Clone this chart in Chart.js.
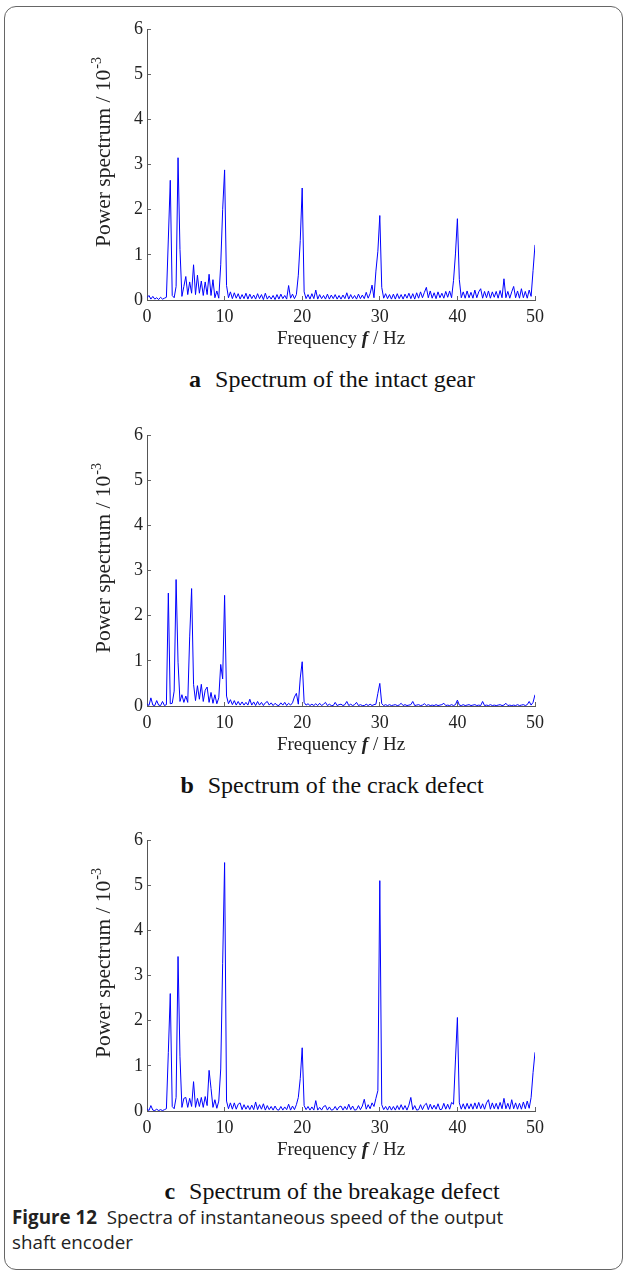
<!DOCTYPE html>
<html>
<head>
    <title>Figure 12</title>
    <script src="https://cdn.jsdelivr.net/npm/chart.js"></script>
    <style>
        body { margin: 0; background: #fff; }
        #page { position: relative; width: 624px; height: 1271px; overflow: hidden; }
        #frame {
            position: absolute; left: 4px; top: 6px; width: 617px; height: 1262px;
            border: 1px solid #666; border-radius: 12px;
        }
        canvas { position: absolute; left: 0; }
        .sub {
            position: absolute; left: 132px; width: 400px; text-align: center;
            font-family: "Liberation Serif", serif; font-size: 24px; line-height: 28px; color: #111;
        }
        .sub b { margin-right: 8px; }
        #caption {
            position: absolute; left: 12px; top: 1205px;
            font-family: "Open Sans", sans-serif; font-size: 18.8px; line-height: 25px; color: #222;
        }
    </style>
</head>
<body>
<div id="page">
    <div id="frame"></div>
    <canvas id="chartA" width="560" height="351" style="top: 9px"></canvas>
    <canvas id="chartB" width="560" height="351" style="top: 415px"></canvas>
    <canvas id="chartC" width="560" height="351" style="top: 820px"></canvas>
    <div class="sub" style="top: 365px"><b>a</b> Spectrum of the intact gear</div>
    <div class="sub" style="top: 771px"><b>b</b> Spectrum of the crack defect</div>
    <div class="sub" style="top: 1177px"><b>c</b> Spectrum of the breakage defect</div>
    <div id="caption"><b>Figure 12</b>&nbsp; Spectra of instantaneous speed of the output<br>shaft encoder</div>
</div>
<script>
    // frequency axis, Hz (one row per Hz)
    var freq = [
        0, 0.25, 0.5, 0.75,   1, 1.25, 1.5, 1.75,   2, 2.25, 2.5, 2.75,   3, 3.25, 3.5, 3.75,
        4, 4.25, 4.5, 4.75,   5, 5.25, 5.5, 5.75,   6, 6.25, 6.5, 6.75,   7, 7.25, 7.5, 7.75,
        8, 8.25, 8.5, 8.75,   9, 9.25, 9.5, 9.75,   10, 10.25, 10.5, 10.75,   11, 11.25, 11.5, 11.75,
        12, 12.25, 12.5, 12.75,   13, 13.25, 13.5, 13.75,   14, 14.25, 14.5, 14.75,   15, 15.25, 15.5, 15.75,
        16, 16.25, 16.5, 16.75,   17, 17.25, 17.5, 17.75,   18, 18.25, 18.5, 18.75,   19, 19.25, 19.5, 19.75,
        20, 20.25, 20.5, 20.75,   21, 21.25, 21.5, 21.75,   22, 22.25, 22.5, 22.75,   23, 23.25, 23.5, 23.75,
        24, 24.25, 24.5, 24.75,   25, 25.25, 25.5, 25.75,   26, 26.25, 26.5, 26.75,   27, 27.25, 27.5, 27.75,
        28, 28.25, 28.5, 28.75,   29, 29.25, 29.5, 29.75,   30, 30.25, 30.5, 30.75,   31, 31.25, 31.5, 31.75,
        32, 32.25, 32.5, 32.75,   33, 33.25, 33.5, 33.75,   34, 34.25, 34.5, 34.75,   35, 35.25, 35.5, 35.75,
        36, 36.25, 36.5, 36.75,   37, 37.25, 37.5, 37.75,   38, 38.25, 38.5, 38.75,   39, 39.25, 39.5, 39.75,
        40, 40.25, 40.5, 40.75,   41, 41.25, 41.5, 41.75,   42, 42.25, 42.5, 42.75,   43, 43.25, 43.5, 43.75,
        44, 44.25, 44.5, 44.75,   45, 45.25, 45.5, 45.75,   46, 46.25, 46.5, 46.75,   47, 47.25, 47.5, 47.75,
        48, 48.25, 48.5, 48.75,   49, 49.25, 49.5, 49.75,   50
    ];

    // power spectrum x 10^-3, a: intact gear
    var powerIntact = [
        0.05, 0.10, 0.02, 0.08,   0.02, 0.05, 0.01, 0.06,   0.02, 0.04, 0.06, 1.35,   2.65, 0.10, 0.05, 0.30,
        3.15, 1.12, 0.08, 0.30,   0.52, 0.12, 0.40, 0.15,   0.78, 0.12, 0.55, 0.15,   0.42, 0.10, 0.40, 0.12,
        0.57, 0.10, 0.45, 0.05,   0.20, 0.04, 0.78, 2.00,   2.88, 0.32, 0.05, 0.18,   0.03, 0.16, 0.04, 0.14,
        0.02, 0.12, 0.03, 0.15,   0.02, 0.13, 0.03, 0.11,   0.02, 0.14, 0.03, 0.12,   0.01, 0.15, 0.02, 0.09,
        0.02, 0.10, 0.01, 0.12,   0.02, 0.13, 0.03, 0.10,   0.02, 0.32, 0.04, 0.13,   0.03, 0.12, 0.55, 1.32,
        2.48, 0.18, 0.03, 0.12,   0.02, 0.14, 0.03, 0.22,   0.02, 0.12, 0.03, 0.10,   0.02, 0.13, 0.02, 0.11,
        0.03, 0.12, 0.02, 0.10,   0.02, 0.11, 0.03, 0.16,   0.02, 0.12, 0.03, 0.10,   0.02, 0.13, 0.03, 0.11,
        0.03, 0.17, 0.04, 0.14,   0.33, 0.05, 0.64, 1.08,   1.87, 0.28, 0.04, 0.14,   0.03, 0.12, 0.02, 0.13,
        0.02, 0.14, 0.03, 0.12,   0.02, 0.13, 0.04, 0.15,   0.03, 0.14, 0.02, 0.16,   0.04, 0.18, 0.05, 0.17,
        0.28, 0.05, 0.20, 0.04,   0.16, 0.03, 0.18, 0.05,   0.15, 0.04, 0.19, 0.06,   0.20, 0.05, 0.43, 1.02,
        1.80, 0.45, 0.05, 0.18,   0.04, 0.20, 0.05, 0.17,   0.04, 0.22, 0.05, 0.18,   0.25, 0.04, 0.19, 0.05,
        0.20, 0.04, 0.18, 0.06,   0.19, 0.04, 0.21, 0.05,   0.47, 0.05, 0.19, 0.04,   0.18, 0.30, 0.05, 0.20,
        0.04, 0.25, 0.05, 0.19,   0.04, 0.22, 0.08, 0.65,   1.22
    ];

    // b: crack defect
    var powerCrack = [
        0.05, 0.01, 0.18, 0.02,   0.01, 0.12, 0.02, 0.01,   0.10, 0.01, 0.03, 2.50,   0.05, 0.06, 0.33, 2.80,
        0.97, 0.10, 0.25, 0.08,   0.22, 0.08, 1.53, 2.60,   0.48, 0.12, 0.45, 0.15,   0.48, 0.10, 0.35, 0.42,
        0.08, 0.30, 0.06, 0.25,   0.05, 0.18, 0.92, 0.60,   2.45, 0.22, 0.05, 0.14,   0.03, 0.12, 0.02, 0.10,
        0.02, 0.09, 0.02, 0.08,   0.02, 0.15, 0.02, 0.09,   0.01, 0.10, 0.02, 0.08,   0.01, 0.07, 0.10, 0.02,
        0.07, 0.01, 0.06, 0.02,   0.01, 0.07, 0.02, 0.08,   0.01, 0.06, 0.02, 0.07,   0.20, 0.28, 0.04, 0.62,
        0.98, 0.08, 0.02, 0.05,   0.01, 0.04, 0.01, 0.05,   0.01, 0.06, 0.01, 0.04,   0.08, 0.01, 0.04, 0.01,
        0.01, 0.08, 0.01, 0.03,   0.04, 0.01, 0.03, 0.10,   0.01, 0.04, 0.01, 0.03,   0.08, 0.01, 0.03, 0.01,
        0.01, 0.04, 0.01, 0.04,   0.01, 0.03, 0.04, 0.28,   0.50, 0.05, 0.01, 0.03,   0.01, 0.03, 0.01, 0.02,
        0.03, 0.01, 0.02, 0.06,   0.01, 0.03, 0.01, 0.02,   0.03, 0.10, 0.01, 0.02,   0.03, 0.01, 0.02, 0.05,
        0.01, 0.03, 0.01, 0.02,   0.01, 0.03, 0.01, 0.02,   0.03, 0.06, 0.01, 0.02,   0.01, 0.03, 0.01, 0.03,
        0.13, 0.02, 0.01, 0.03,   0.01, 0.02, 0.03, 0.01,   0.02, 0.03, 0.01, 0.02,   0.01, 0.10, 0.01, 0.02,
        0.01, 0.03, 0.01, 0.02,   0.01, 0.02, 0.03, 0.01,   0.02, 0.06, 0.01, 0.02,   0.01, 0.02, 0.01, 0.03,
        0.01, 0.02, 0.03, 0.01,   0.03, 0.10, 0.02, 0.08,   0.25
    ];

    // c: breakage defect
    var powerBreak = [
        0.05, 0.01, 0.12, 0.02,   0.01, 0.04, 0.01, 0.03,   0.01, 0.03, 0.05, 1.30,   2.60, 0.10, 0.05, 0.30,
        3.42, 1.20, 0.08, 0.28,   0.30, 0.08, 0.28, 0.10,   0.65, 0.08, 0.28, 0.10,   0.30, 0.08, 0.32, 0.12,
        0.90, 0.50, 0.08, 0.25,   0.06, 0.22, 0.93, 3.27,   5.50, 0.22, 0.05, 0.18,   0.04, 0.18, 0.04, 0.15,
        0.18, 0.03, 0.14, 0.04,   0.12, 0.03, 0.13, 0.03,   0.20, 0.03, 0.14, 0.04,   0.16, 0.02, 0.12, 0.03,
        0.10, 0.02, 0.11, 0.03,   0.02, 0.10, 0.02, 0.09,   0.03, 0.15, 0.02, 0.11,   0.03, 0.14, 0.30, 0.72,
        1.40, 0.12, 0.03, 0.10,   0.02, 0.09, 0.02, 0.23,   0.02, 0.08, 0.02, 0.10,   0.12, 0.02, 0.09, 0.02,
        0.03, 0.10, 0.02, 0.09,   0.11, 0.02, 0.10, 0.03,   0.15, 0.03, 0.11, 0.02,   0.03, 0.12, 0.03, 0.11,
        0.26, 0.04, 0.14, 0.05,   0.18, 0.10, 0.28, 0.45,   5.10, 0.14, 0.03, 0.10,   0.02, 0.11, 0.02, 0.10,
        0.02, 0.12, 0.03, 0.14,   0.03, 0.12, 0.02, 0.13,   0.30, 0.03, 0.12, 0.02,   0.03, 0.14, 0.03, 0.13,
        0.17, 0.03, 0.15, 0.04,   0.13, 0.04, 0.16, 0.03,   0.04, 0.17, 0.04, 0.15,   0.04, 0.19, 0.15, 1.13,
        2.07, 0.18, 0.04, 0.16,   0.04, 0.17, 0.05, 0.16,   0.04, 0.18, 0.05, 0.19,   0.05, 0.16, 0.04, 0.18,
        0.25, 0.04, 0.18, 0.05,   0.17, 0.04, 0.19, 0.05,   0.28, 0.05, 0.17, 0.04,   0.25, 0.05, 0.18, 0.04,
        0.17, 0.04, 0.20, 0.05,   0.22, 0.06, 0.30, 0.85,   1.30
    ];

    var xTitle = ['Frequency ', 'f', ' / Hz'];
    var yTitle = ['Power spectrum / 10', '-3'];

    var serif = '"Liberation Serif", "Times New Roman", serif';

    // draws the axis titles (mixed italic / superscript, so done by hand)
    var axisTitles = {
        id: 'axisTitles',
        afterDraw: function(chart) {
            var ctx = chart.ctx, a = chart.chartArea;
            ctx.save();
            ctx.fillStyle = '#222';
            ctx.textBaseline = 'middle';

            var fonts = ['19px ' + serif, 'italic bold 19px ' + serif, '19px ' + serif];
            var w = 0;
            for (var i = 0; i < 3; i++) { ctx.font = fonts[i]; w += ctx.measureText(xTitle[i]).width; }
            var x = (a.left + a.right) / 2 - w / 2;
            for (var i = 0; i < 3; i++) {
                ctx.font = fonts[i];
                ctx.fillText(xTitle[i], x, a.bottom + 39);
                x += ctx.measureText(xTitle[i]).width;
            }

            ctx.translate(104, (a.top + a.bottom) / 2 - 12);
            ctx.rotate(-Math.PI / 2);
            ctx.font = '21.5px ' + serif;
            var w1 = ctx.measureText(yTitle[0]).width;
            ctx.font = '14px ' + serif;
            var w2 = ctx.measureText(yTitle[1]).width;
            var sx = -(w1 + w2) / 2;
            ctx.font = '21.5px ' + serif;
            ctx.fillText(yTitle[0], sx, 0);
            ctx.font = '14px ' + serif;
            ctx.fillText(yTitle[1], sx + w1 + 1, -7);
            ctx.restore();
        }
    };

    function makeChart(id, power) {
        var ctx = document.getElementById(id).getContext('2d');
        return new Chart(ctx, {
            type: 'line',
            data: {
                datasets: [{
                    data: freq.map(function(f, i) { return {x: f, y: power[i]}; }),
                    borderColor: '#0000ff',
                    borderWidth: 1,
                    pointRadius: 0,
                    tension: 0
                }]
            },
            options: {
                responsive: false,
                animation: false,
                layout: { padding: { top: 20, right: 25, left: 0, bottom: 0 } },
                plugins: { legend: { display: false }, tooltip: { enabled: false } },
                scales: {
                    x: {
                        type: 'linear',
                        min: 0,
                        max: 50,
                        ticks: { stepSize: 10, color: '#222', padding: 10, font: { family: serif, size: 18 } },
                        grid: { drawOnChartArea: false, tickLength: -4, color: '#666' },
                        border: { color: '#555' },
                        afterFit: function(s) { s.height = 60; }
                    },
                    y: {
                        min: 0,
                        max: 6,
                        ticks: { stepSize: 1, color: '#222', padding: 8, font: { family: serif, size: 18 } },
                        grid: { drawOnChartArea: false, tickLength: -4, color: '#666' },
                        border: { color: '#555' },
                        afterFit: function(s) { s.width = 147; }
                    }
                }
            },
            plugins: [axisTitles]
        });
    }

    makeChart('chartA', powerIntact);
    makeChart('chartB', powerCrack);
    makeChart('chartC', powerBreak);
</script>
</body>
</html>
